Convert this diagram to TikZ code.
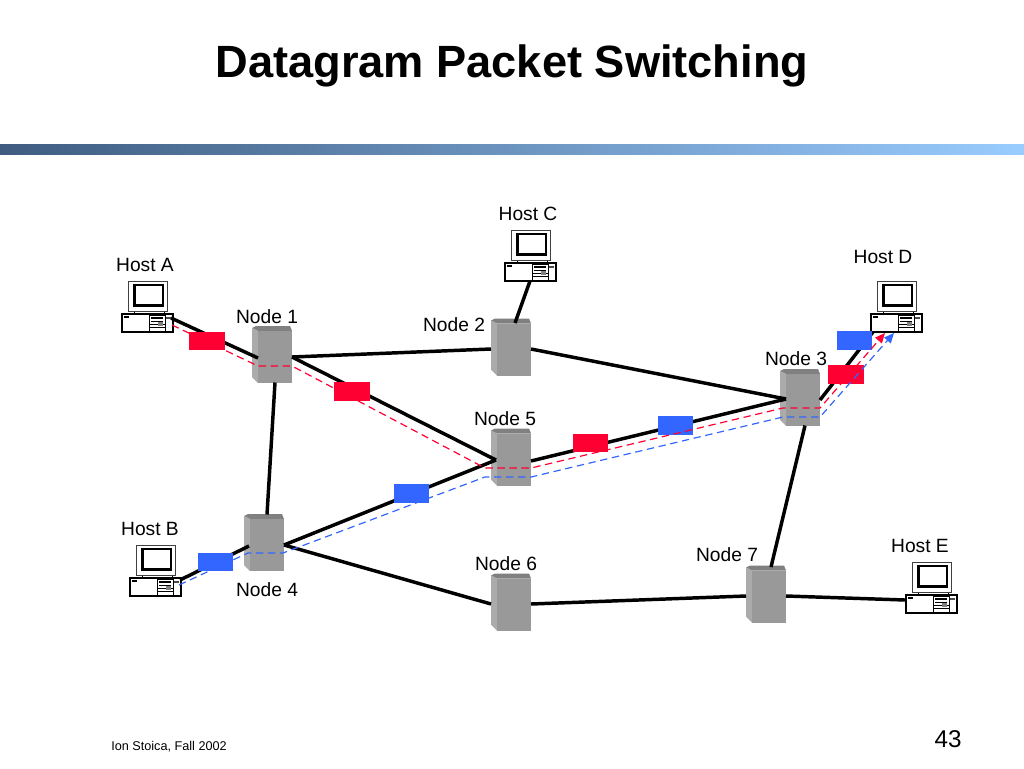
\documentclass[tikz,border=0pt]{standalone}
\usepackage{fontspec}
\setmainfont{Liberation Sans}
\usetikzlibrary{arrows.meta}
\definecolor{pktred}{HTML}{FF0033}
\definecolor{pktblue}{HTML}{3366FF}
\definecolor{srvfront}{HTML}{999999}
\definecolor{srvleft}{HTML}{ABABAB}
\definecolor{srvtop}{HTML}{808080}
\definecolor{barL}{HTML}{3F5C80}
\definecolor{barR}{HTML}{99CCFF}
\tikzset{
  x=0.75pt,y=-0.75pt,
  lbl/.style={inner sep=0pt,font=\fontsize{14.4pt}{16pt}\selectfont},
  link/.style={line width=2.6pt,black},
  redpath/.style={draw=pktred,line width=0.9pt,dash pattern=on 5.5pt off 3.5pt},
  bluepath/.style={draw=pktblue,line width=0.9pt,dash pattern=on 5.5pt off 3.5pt},
  tip/.style={-{Triangle[length=7.5pt,width=6.5pt]}},
  pkt/.style={inner sep=0pt,minimum width=26.5pt,minimum height=14pt,fill=#1},
  server/.pic={
    \node[inner sep=0pt,minimum width=30pt,minimum height=42.75pt] (-c) at (0,0) {};
    \begin{scope}[shift={(-20,-28.5)}]
      \fill[srvtop] (0,2) -- (4,0) -- (38,0) -- (40,5) -- (6,5) -- cycle;
      \fill[srvleft] (0,2) -- (6,5) -- (6,57) -- (0,51) -- cycle;
      \fill[srvfront] (6,5) -- (40,5) -- (40,57) -- (6,57) -- cycle;
    \end{scope}
  },
  computer/.pic={
    \coordinate (-base) at (0,0);
    \draw[line width=0.6pt,draw=black!75,fill=white] (6.5,-33) rectangle (45,-2.3);
    \fill[black] (11,-30) rectangle (41.5,-7.5);
    \fill[white] (13.5,-28) rectangle (39.5,-10);
    \draw[line width=0.5pt] (12,-2) -- (12,0) (42,-2) -- (42,0);
    \draw[line width=0.8pt,fill=white] (0,0) rectangle (51,18);
    \fill (2,2) rectangle (7,3.5);
    \fill[black!70] (44,2.5) rectangle (49,4.5);
    \draw[line width=0.4pt] (27,1.5) rectangle (43,17);
    \draw[line width=0.8pt] (29,4) -- (41,4);
    \draw[line width=0.4pt] (29,7.5) -- (41,7.5) (27,10.5) -- (43,10.5) (27,13.5) -- (43,13.5);
    \fill[gray] (36,7.5) rectangle (41,12);
  }
}
\begin{document}
\begin{tikzpicture}
\useasboundingbox (0,0) rectangle (1024,768);
\fill[white] (0,0) rectangle (1024,768);

% title and rule
\node[inner sep=0pt,font=\fontsize{33.9pt}{38pt}\selectfont\bfseries] (title) at (512,66) {Datagram Packet Switching};
\shade[left color=barL,right color=barR] (0,144) rectangle (1024,154);

% servers
\pic (n1) at (272,354.5) {server};
\pic (n2) at (511,347) {server};
\pic (n3) at (800,397.5) {server};
\pic (n4) at (264,542.5) {server};
\pic (n5) at (511,457) {server};
\pic (n6) at (511,602) {server};
\pic (n7) at (766,594) {server};

% hosts
\pic (hA) at (122,314) {computer};
\pic (hB) at (130,578) {computer};
\pic (hC) at (505,263) {computer};
\pic (hD) at (871,314) {computer};
\pic (hE) at (906,595) {computer};

% links
\draw[link] ([shift={(49,4)}]hA-base) -- ([shift={(-14,3.5)}]n1-c.center);
\draw[link] ([shift={(50,2)}]hB-base) -- ([shift={(-15,3.5)}]n4-c.center);
\draw[link] ([shift={(25,18)}]hC-base) -- ([shift={(4,-24)}]n2-c.center);
\draw[link] ([shift={(2,18)}]hD-base) -- ([shift={(20,2.5)}]n3-c.center);
\draw[link] ([shift={(20,2.5)}]n1-c.center) -- ([shift={(-20,2)}]n2-c.center);
\draw[link] ([shift={(20,2.5)}]n1-c.center) -- ([shift={(-15,3)}]n5-c.center);
\draw[link] ([shift={(3,28)}]n1-c.center) -- ([shift={(3,-28)}]n4-c.center);
\draw[link] ([shift={(20,2)}]n2-c.center) -- ([shift={(-14,1.5)}]n3-c.center);
\draw[link] ([shift={(20,4)}]n5-c.center) -- ([shift={(-14,1.5)}]n3-c.center);
\draw[link] ([shift={(20,2.5)}]n4-c.center) -- ([shift={(-15,3)}]n5-c.center);
\draw[link] ([shift={(20,2.5)}]n4-c.center) -- ([shift={(-20,2)}]n6-c.center);
\draw[link] ([shift={(20,2)}]n6-c.center) -- ([shift={(-20,2)}]n7-c.center);
\draw[link] ([shift={(5,28)}]n3-c.center) -- ([shift={(5,-27)}]n7-c.center);
\draw[link] ([shift={(20,2)}]n7-c.center) -- ([shift={(-1,5)}]hE-base);

% packets
\node[pkt=pktred] (r1) at (207,341) {};
\node[pkt=pktred] (r2) at (352,391.5) {};
\node[pkt=pktred] (r3) at (590.5,443) {};
\node[pkt=pktred] (r4) at (846,374.5) {};
\node[pkt=pktblue] (b1) at (215.5,562) {};
\node[pkt=pktblue] (b2) at (411.5,493.5) {};
\node[pkt=pktblue] (b3) at (675.5,425.5) {};
\node[pkt=pktblue] (b4) at (854.5,340.5) {};

% packet routes
\draw[redpath,tip] ([shift={(50,11)}]hA-base)
  -- ([shift={(-14,11.5)}]n1-c.center) -- ([shift={(20,11.5)}]n1-c.center)
  -- ([shift={(-26,11)}]n5-c.center) -- ([shift={(20,11)}]n5-c.center)
  -- ([shift={(-17,10.5)}]n3-c.center) -- ([shift={(20,10.5)}]n3-c.center)
  -- ([shift={(14,19)}]hD-base);
\draw[bluepath,tip] ([shift={(49,7)}]hB-base)
  -- ([shift={(-16,10.5)}]n4-c.center) -- ([shift={(19,10.5)}]n4-c.center)
  -- ([shift={(-26,20)}]n5-c.center) -- ([shift={(20,20)}]n5-c.center)
  -- ([shift={(-17,19.5)}]n3-c.center) -- ([shift={(20,19.5)}]n3-c.center)
  -- ([shift={(23,19)}]hD-base);

% labels
\node[lbl] (lA) at (145,265) {Host A};
\node[lbl] (lB) at (150,529) {Host B};
\node[lbl] (lC) at (528,214) {Host C};
\node[lbl] (lD) at (883,257) {Host D};
\node[lbl] (lE) at (920,546) {Host E};
\node[lbl] (l1) at (267,317) {Node 1};
\node[lbl] (l2) at (454,325) {Node 2};
\node[lbl] (l3) at (796,359) {Node 3};
\node[lbl] (l4) at (267,590) {Node 4};
\node[lbl] (l5) at (505,419) {Node 5};
\node[lbl] (l6) at (506,564) {Node 6};
\node[lbl] (l7) at (727,555) {Node 7};

% footer
\node[inner sep=0pt,anchor=west,font=\fontsize{9.5pt}{11pt}\selectfont] (foot) at (111,747) {Ion Stoica, Fall 2002};
\node[inner sep=0pt,font=\fontsize{18.2pt}{20pt}\selectfont] (pg) at (948,739) {43};
\end{tikzpicture}
\end{document}
